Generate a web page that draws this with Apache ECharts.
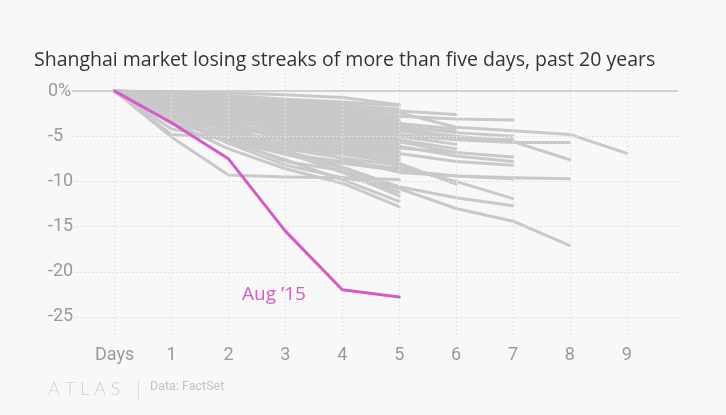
<!DOCTYPE html>
<html>
<head>
<meta charset="utf-8">
<script src="https://cdn.jsdelivr.net/npm/echarts@6/dist/echarts.min.js"></script>
<style>
html,body{margin:0;padding:0;background:#f8f8f8;}
#c{width:726px;height:415px;}
</style>
</head>
<body>
<div id="c"></div>
<script>
// Day labels (x axis)
const dayTicks = [0,1,2,3,4,5,6,7,8,9];
const dayLabels = ['Days','1','2','3','4','5','6','7','8','9'];
// Y tick labels
const yTicks = [0,-5,-10,-15,-20,-25];
const yLabels = ['0%','-5','-10','-15','-20','-25'];

// Highlighted streak: Aug '15 (cumulative % change by day)
const aug15 = [0,-3.5,-7.5,-15.5,-22,-22.8];
const aug15Label = 'Aug \u201915';

// Other losing streaks, grouped by length
const streaks9 = [
  [0,-0.3,-0.8,-1.3,-1.8,-2.4,-4.0,-4.4,-4.8,-6.9]
];
const streaks8 = [
  [0,-0.6,-1.5,-2.5,-3.5,-4.8,-5.4,-5.7,-5.7],
  [0,-0.4,-1.2,-2.2,-3.0,-4.2,-5.0,-5.6,-7.6],
  [0,-1.5,-3.5,-5.5,-7.5,-9.0,-9.4,-9.6,-9.7],
  [0,-2.5,-5.0,-7.0,-8.5,-10.8,-13.0,-14.4,-17.1]
];
const streaks7 = [
  [0,-0.5,-1.2,-1.8,-2.3,-2.8,-3.1,-3.2],
  [0,-0.8,-1.6,-2.4,-3.2,-3.8,-4.6,-5.0],
  [0,-0.9,-2.0,-3.0,-3.6,-4.4,-5.2,-5.4],
  [0,-1.2,-2.4,-3.6,-4.7,-5.6,-6.8,-7.3],
  [0,-1.0,-2.6,-4.2,-5.2,-6.1,-7.2,-7.8],
  [0,-1.8,-3.0,-4.6,-5.6,-6.9,-7.8,-8.2],
  [0,-2.2,-4.4,-6.8,-8.0,-8.8,-9.4,-9.7],
  [0,-1.6,-3.8,-5.2,-6.0,-8.4,-10.0,-11.9],
  [0,-3.0,-5.8,-8.2,-9.6,-10.6,-11.8,-12.7],
  [0,-0.7,-1.8,-3.4,-4.2,-5.0,-5.3,-5.5]
];
const streaks6 = [
  [0,-0.4,-0.9,-1.4,-1.8,-2.2,-2.6],
  [0,-0.7,-1.5,-2.6,-3.4,-4.0,-4.5],
  [0,-1.3,-2.2,-3.0,-4.0,-5.0,-5.9],
  [0,-2.0,-3.4,-5.0,-6.6,-8.0,-10.3],
  [0,-1.4,-2.8,-4.0,-5.4,-6.3,-6.8],
  [0,-0.6,-1.3,-2.0,-3.0,-3.6,-4.2],
  [0,-1.1,-2.5,-3.8,-4.6,-5.4,-6.4]
];
const streaks5 = [
  [0,-0.1,-0.2,-0.4,-0.7,-1.5],
  [0,-0.2,-0.5,-0.9,-1.2,-1.6],
  [0,-0.3,-0.7,-1.1,-1.5,-2.0],
  [0,-0.4,-0.9,-1.5,-2.0,-2.4],
  [0,-0.6,-1.0,-1.6,-2.2,-2.8],
  [0,-0.5,-1.3,-1.9,-2.5,-3.0],
  [0,-0.8,-1.4,-2.2,-2.8,-3.3],
  [0,-0.3,-1.1,-2.0,-2.9,-3.6],
  [0,-1.0,-1.8,-2.5,-3.2,-3.8],
  [0,-0.7,-1.6,-2.8,-3.4,-4.0],
  [0,-1.2,-2.0,-2.9,-3.6,-4.3],
  [0,-0.4,-1.4,-2.4,-3.8,-4.5],
  [0,-1.5,-2.4,-3.2,-3.9,-4.7],
  [0,-0.9,-2.2,-3.4,-4.2,-4.9],
  [0,-1.9,-2.8,-3.6,-4.4,-5.1],
  [0,-0.6,-1.9,-3.1,-4.6,-5.3],
  [0,-1.3,-2.7,-3.9,-4.8,-5.5],
  [0,-2.4,-3.3,-4.2,-5.0,-5.7],
  [0,-0.8,-2.3,-4.0,-5.2,-5.9],
  [0,-1.6,-3.1,-4.4,-5.5,-6.1],
  [0,-2.7,-4.2,-4.9,-5.6,-6.3],
  [0,-1.1,-2.9,-4.8,-5.8,-6.5],
  [0,-3.2,-4.6,-5.4,-6.0,-6.7],
  [0,-2.0,-3.6,-5.1,-6.2,-6.9],
  [0,-1.4,-3.4,-5.6,-6.5,-7.1],
  [0,-3.6,-5.0,-5.8,-6.6,-7.3],
  [0,-2.2,-4.0,-6.0,-6.9,-7.6],
  [0,-4.8,-5.3,-6.2,-7.0,-7.9],
  [0,-1.8,-4.5,-6.4,-7.4,-8.2],
  [0,-3.0,-5.5,-7.0,-7.8,-8.6],
  [0,-5.1,-9.3,-9.5,-9.6,-9.8],
  [0,-2.6,-4.8,-6.6,-8.4,-10.6],
  [0,-4.2,-5.4,-7.8,-8.8,-11.2],
  [0,-3.4,-6.4,-8.6,-10.2,-12.8],
  [0,-2.8,-5.6,-7.6,-9.8,-12.2],
  [0,-1.7,-4.0,-6.8,-9.0,-11.6],
  [0,-0.5,-1.7,-2.7,-3.3,-3.9],
  [0,-0.2,-0.8,-1.8,-2.6,-3.4],
  [0,-0.9,-1.5,-2.1,-2.6,-2.9],
  [0,-0.3,-0.6,-1.2,-1.7,-2.2],
  [0,-1.1,-1.9,-2.6,-3.0,-3.5]
];

const GRAY = '#c9c9c9';
const PINK = '#d65ac8';
const TEXT_GRAY = '#9a9a9a';

const allGray = [].concat(streaks5, streaks6, streaks7, streaks8, streaks9);
const toPts = arr => arr.map((v, i) => [i, v]);

const series = [];

// Grid lines drawn via markLines on a hidden helper series
series.push({
  type: 'line',
  data: [],
  silent: true,
  z: 1,
  markLine: {
    silent: true,
    symbol: ['none', 'none'],
    label: {show: false},
    animation: false,
    data: dayTicks.map(d => ({xAxis: d, lineStyle: {color: '#e2e2e2', width: 1, type: [2, 2]}}))
      .concat(yTicks.filter(v => v !== 0).map(v => ({yAxis: v, lineStyle: {color: '#e2e2e2', width: 1, type: [2, 2]}})))
      .concat([{yAxis: 0, lineStyle: {color: '#c4c4c4', width: 1.5, type: 'solid'}}])
  }
});

allGray.forEach(arr => {
  series.push({
    type: 'line',
    data: toPts(arr),
    symbol: 'none',
    silent: true,
    z: 2,
    lineStyle: {color: GRAY, width: 3, join: 'round', cap: 'round'}
  });
});

series.push({
  type: 'line',
  data: toPts(aug15),
  symbol: 'none',
  z: 5,
  lineStyle: {color: PINK, width: 3, join: 'round', cap: 'round'},
  markPoint: {
    symbol: 'circle',
    symbolSize: 0,
    data: [{coord: [2.8, -22.5]}],
    label: {
      show: true,
      formatter: aug15Label,
      color: PINK,
      fontSize: 19,
      fontFamily: 'Open Sans',
      position: 'inside'
    }
  }
});

const chart = echarts.init(document.getElementById('c'), null, {renderer: 'canvas'});
chart.setOption({
  backgroundColor: '#f8f8f8',
  animation: false,
  title: {
    text: 'Shanghai market losing streaks of more than five days, past 20 years',
    left: 29,
    top: 45,
    textStyle: {fontFamily: 'Open Sans', fontSize: 19.5, fontWeight: 'normal', color: '#333333'}
  },
  grid: {left: 72, right: 48, top: 73, bottom: 80, containLabel: false},
  xAxis: {
    type: 'value',
    min: -0.75,
    max: 9.9,
    axisLine: {show: false},
    axisTick: {show: false},
    splitLine: {show: false},
    axisLabel: {
      customValues: dayTicks,
      formatter: v => dayLabels[dayTicks.indexOf(Math.round(v))] ?? '',
      color: TEXT_GRAY,
      fontFamily: 'Roboto',
      fontSize: 18,
      margin: 11
    }
  },
  yAxis: {
    type: 'value',
    min: -27,
    max: 2,
    axisLine: {show: false},
    axisTick: {show: false},
    splitLine: {show: false},
    axisLabel: {
      customValues: yTicks,
      formatter: v => yLabels[yTicks.indexOf(Math.round(v))] ?? '',
      color: TEXT_GRAY,
      fontFamily: 'Roboto',
      fontSize: 18,
      align: 'left',
      margin: 24
    }
  },
  graphic: [
    {type: 'text', left: 48, top: 380, style: {text: 'A T L A S', fill: '#d0d0d0', font: '300 18px Lato'}},
    {type: 'rect', left: 138, top: 381, shape: {width: 1, height: 19}, style: {fill: '#dcdcdc'}},
    {type: 'text', left: 150, top: 380, style: {text: 'Data: FactSet', fill: '#c2c2c2', font: '12.5px Roboto'}}
  ],
  series: series
});
</script>
</body>
</html>
